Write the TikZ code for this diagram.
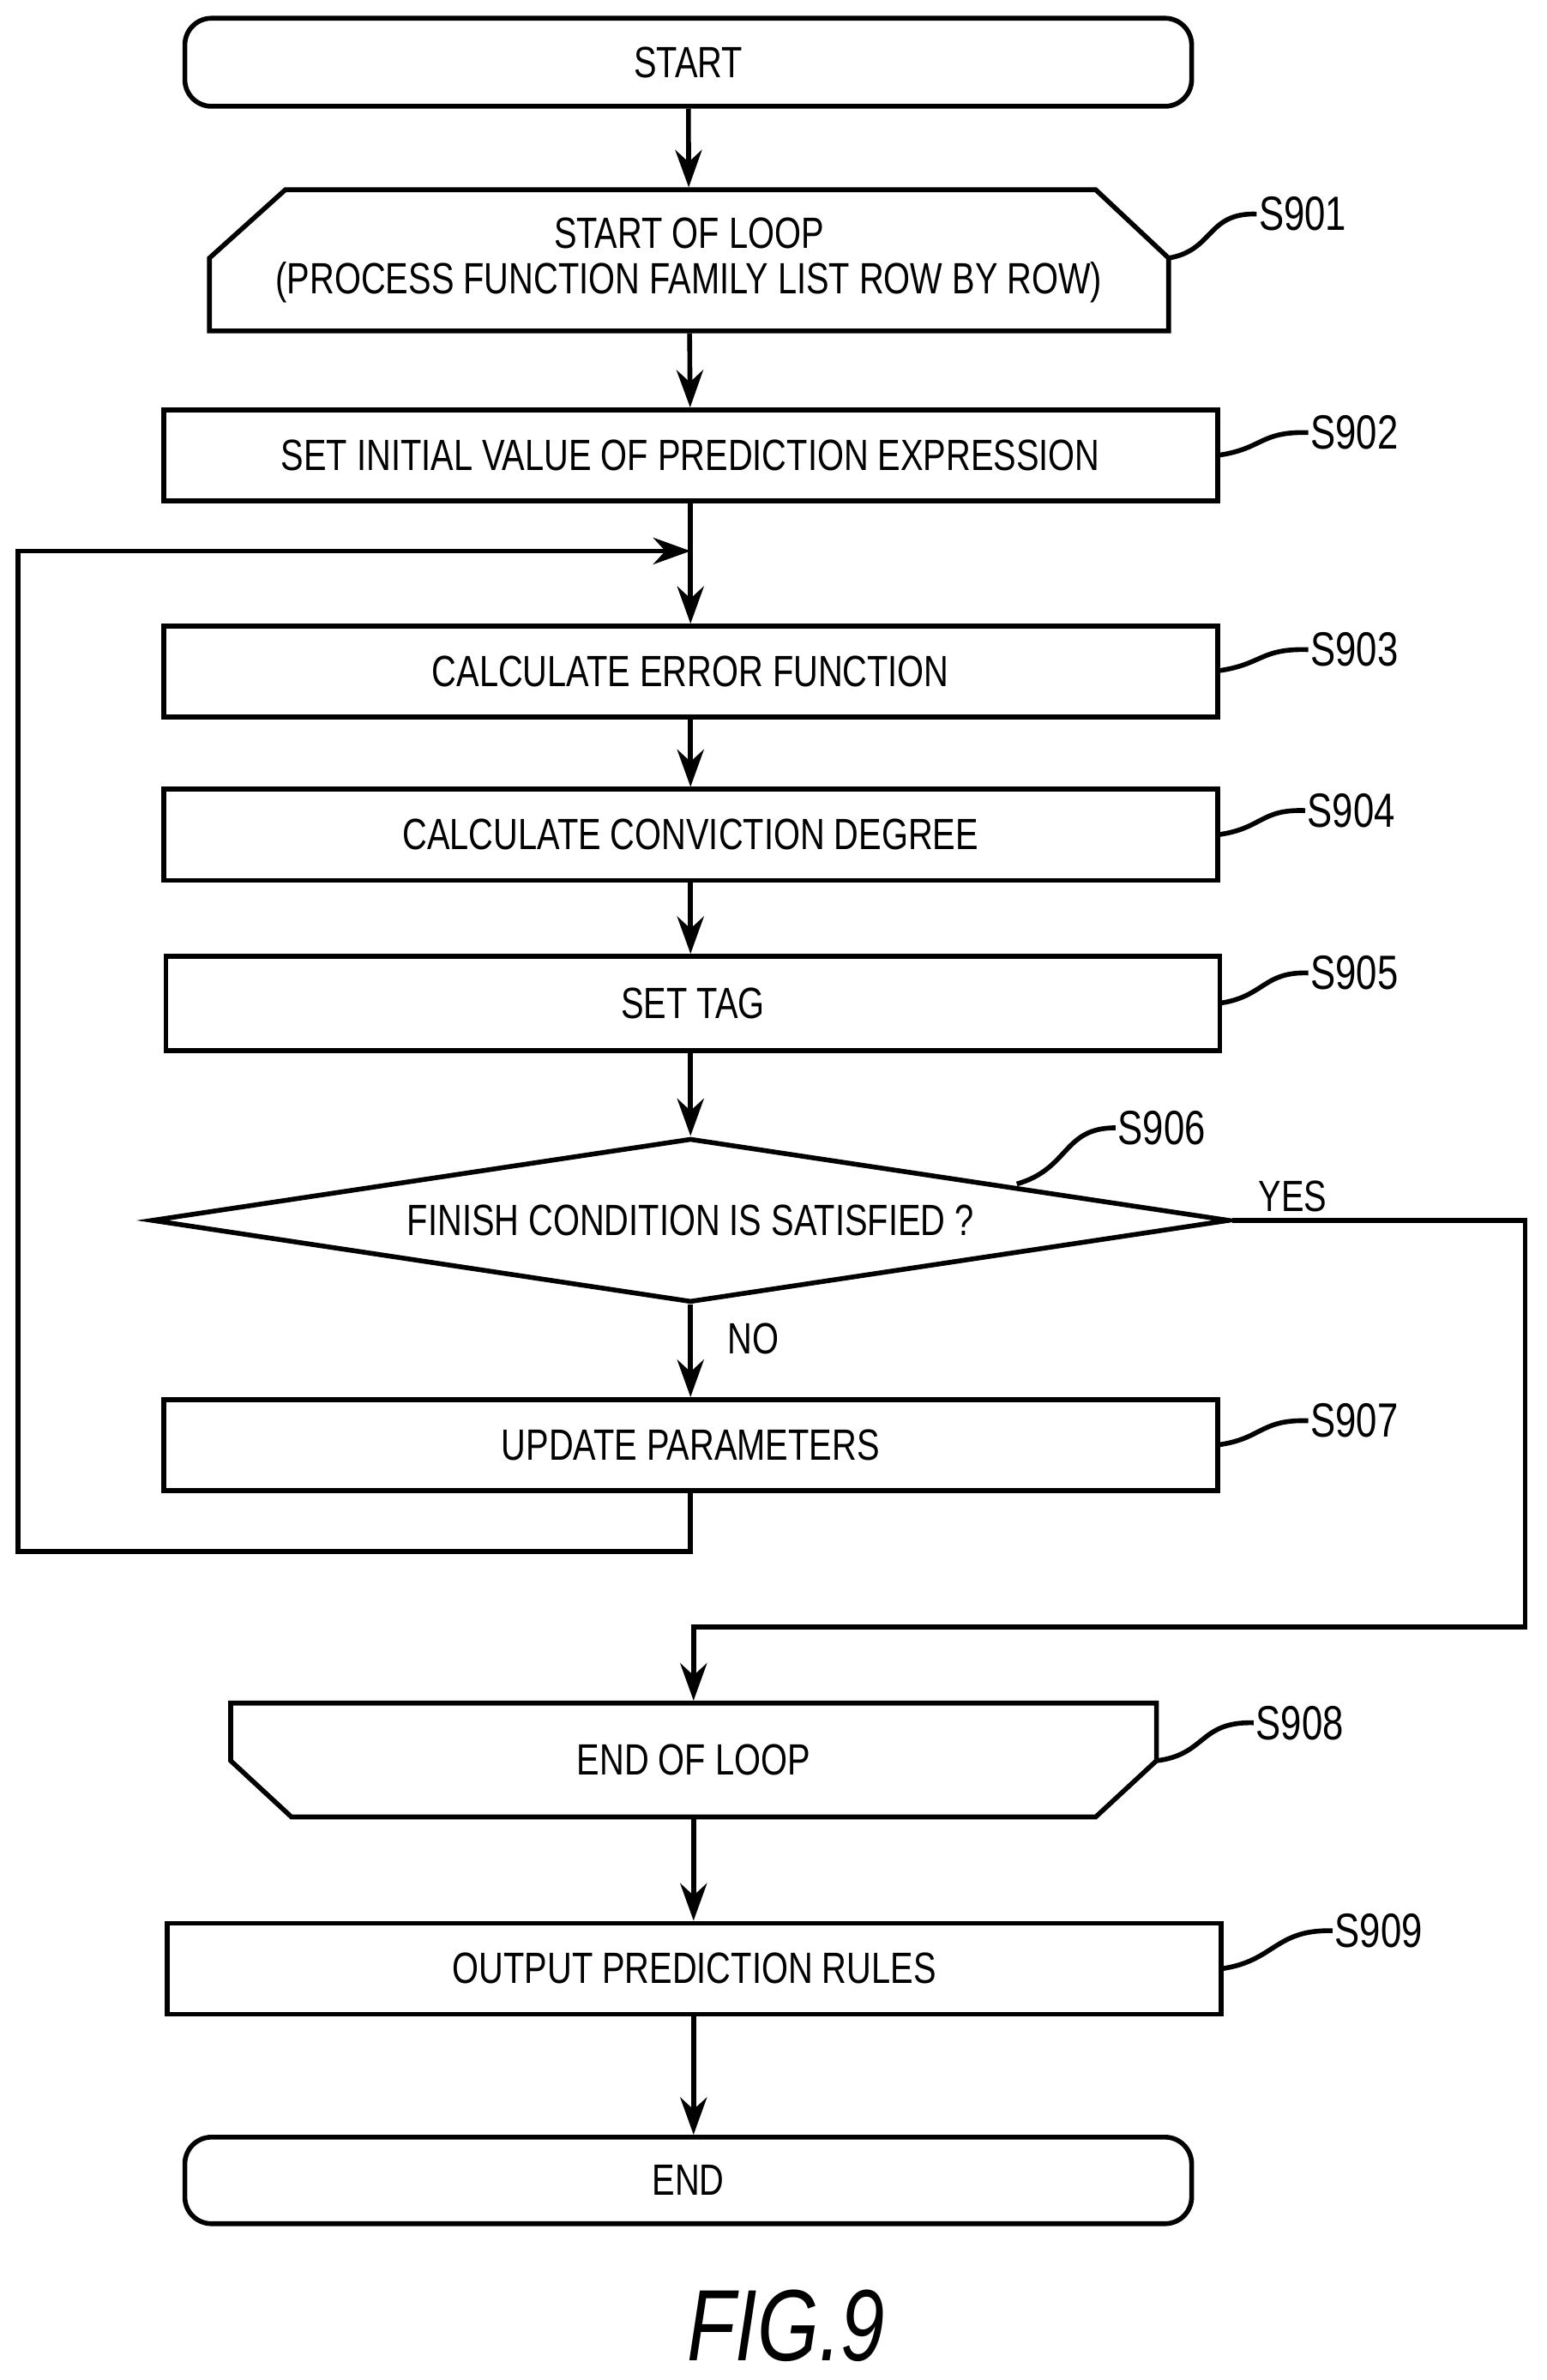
\documentclass[tikz,border=0pt]{standalone}
\usepackage{fontspec}
\setmainfont[FakeStretch=0.78]{Liberation Sans}
\usetikzlibrary{arrows.meta,shapes.geometric}
\begin{document}
\begin{tikzpicture}[x=0.01cm,y=-0.01cm,line width=0.9pt,
  txt/.style={font=\fontsize{8.2pt}{8.6pt}\selectfont,align=center},
  lab/.style={font=\fontsize{9pt}{10pt}\selectfont,anchor=west,inner sep=0},
  arr/.style={-{Stealth[length=7pt,width=5pt]}}]
\useasboundingbox (0,0) rectangle (1019,1568);
\tikzset{rbox/.style={draw,txt,minimum width=6.94cm,minimum height=0.60cm}}
% start
\node[draw,rounded corners=5pt,txt,minimum width=6.63cm,minimum height=0.58cm] (start) at (453.5,41) {START};
% S901
\draw (188,125) -- (722,125) -- (770,170) -- (770,218) -- (138,218) -- (138,170) -- cycle;
\node[txt,minimum width=6.32cm,minimum height=0.93cm] (s901) at (454,171.5) {START OF LOOP\\(PROCESS FUNCTION FAMILY LIST ROW BY ROW)};
\node[rbox] (s902) at (455,300) {SET INITIAL VALUE OF PREDICTION EXPRESSION};
\node[rbox] (s903) at (455,442.5) {CALCULATE ERROR FUNCTION};
\node[rbox] (s904) at (455,550) {CALCULATE CONVICTION DEGREE};
\node[rbox,minimum height=0.62cm] (s905) at (456.5,661) {SET TAG};
\node[draw,diamond,txt,minimum width=7.10cm,minimum height=1.08cm,inner sep=0,aspect=6.6] (s906) at (455,804) {FINISH CONDITION IS SATISFIED ?};
\node[rbox] (s907) at (455,952) {UPDATE PARAMETERS};
% S908
\draw (152,1122) -- (762,1122) -- (762,1160) -- (722,1197) -- (192,1197) -- (152,1160) -- cycle;
\node[txt,minimum width=6.10cm,minimum height=0.75cm] (s908) at (457,1159.5) {END OF LOOP};
\node[rbox] (s909) at (457.5,1297) {OUTPUT PREDICTION RULES};
\node[draw,rounded corners=5pt,txt,minimum width=6.63cm,minimum height=0.57cm] (end) at (453.5,1436.5) {END};
\node[font=\fontsize{19pt}{22pt}\selectfont\itshape] (fig) at (518,1532) {FIG.9};
% connectors
\coordinate (m1) at (455,363);
\coordinate (lb1) at (455,1022);
\coordinate (lb2) at (12,1022);
\coordinate (lb3) at (12,363);
\coordinate (y1) at (1005,804);
\coordinate (y2) at (1005,1072);
\coordinate (y3) at (457,1072);
\draw[arr] (start) -- (s901);
\draw[arr] (s901) -- (s902);
\draw[arr] (s902) -- (s903);
\draw[arr] (s903) -- (s904);
\draw[arr] (s904) -- (s905.north -| s904);
\draw[arr] (s905.south -| s906) -- (s906.north);
\draw[arr] (s906.south) -- (s907);
\draw[arr] (s907.south) -- (lb1) -- (lb2) -- (lb3) -- (m1);
\draw[arr] (s906.east) -- (y1) -- (y2) -- (y3) -- (y3 |- s908.north);
\draw[arr] (s908) -- (s909.north -| s908);
\draw[arr] (s909.south -| s908) -- (end.north -| s908);
\node[txt,anchor=west] (yes) at (816,788) {YES};
\node[txt,anchor=west] (no) at (466,882) {NO};
% step labels
\node[lab] (l901) at (828,141) {S901};
\node[lab] (l902) at (862,285) {S902};
\node[lab] (l903) at (862,428) {S903};
\node[lab] (l904) at (860,534) {S904};
\node[lab] (l905) at (862,641) {S905};
\node[lab] (l906) at (735,743) {S906};
\node[lab] (l907) at (862,936) {S907};
\node[lab] (l908) at (826,1135) {S908};
\node[lab] (l909) at (878,1272) {S909};
\draw (770,170) .. controls (800,165) and (795,140) .. (l901.west);
\draw (802,300) .. controls (832,296) and (830,284) .. (l902.west);
\draw (802,442) .. controls (832,438) and (830,427) .. (l903.west);
\draw (802,550) .. controls (832,546) and (830,533) .. (l904.west);
\draw (803,661) .. controls (833,657) and (832,640) .. (l905.west);
\draw (670,780) .. controls (705,770) and (700,743) .. (l906.west);
\draw (802,952) .. controls (832,948) and (830,935) .. (l907.west);
\draw (762,1160) .. controls (795,1156) and (790,1134) .. (l908.west);
\draw (805,1297) .. controls (840,1292) and (840,1271) .. (l909.west);
\end{tikzpicture}
\end{document}
